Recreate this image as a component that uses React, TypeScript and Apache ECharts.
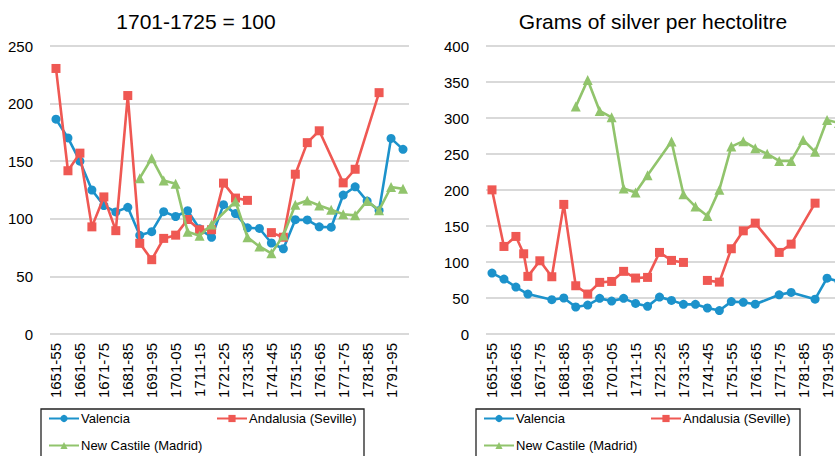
import React, { useEffect, useRef } from 'react';
import * as echarts from 'echarts';

// five-year periods
const categories = [
  '1651-55', '1656-60', '1661-65', '1666-70', '1671-75', '1676-80', '1681-85', '1686-90',
  '1691-95', '1696-00', '1701-05', '1706-10', '1711-15', '1716-20', '1721-25', '1726-30',
  '1731-35', '1736-40', '1741-45', '1746-50', '1751-55', '1756-60', '1761-65', '1766-70',
  '1771-75', '1776-80', '1781-85', '1786-90', '1791-95', '1796-00',
];

// null = empty cell (line breaks), NA = not available (line passes over it)
const NA = 'NA';

// Index, 1701-1725 = 100
const idxValencia = [
  186.5, 170.2, 150, 125, 111.5, 106, 110, 85.7, 88.8, 106.2,
  102, 107, 91.3, 84, 112.3, 104.5, 92.2, 91.6, 79, 74,
  99.2, 99, 93, 92.7, 120.6, 127.8, 115.4, 107.1, 169.8, 160.3,
];
const idxSeville = [
  230.5, 141.7, 157, 93, 119, 89.7, 207, 78.7, 64.5, 83,
  85.8, 99.4, 90.5, 90.5, 131, 118, 116, null, 88, 84,
  138.7, 166.1, 176.4, NA, 131.2, 143, NA, 209.5, null, null,
];
const idxMadrid = [
  null, null, null, null, null, null, null, 135.3, 152.6, 133.2,
  130.5, 88.8, 85.2, 95, NA, 115, 84, 76, 70, 85.5,
  112.2, 115.8, 111.5, 107.8, 104, 103, 115.5, 107.5, 127.6, 126,
];

// Grams of silver per hectolitre
const agValencia = [
  84.6, 76.3, 65.2, 55.5, NA, 47.6, 50, 37.5, 40.2, 49.5,
  45.8, 49.5, 42.5, 38.4, 51.3, 46.7, 41.2, 41.2, 36.1, 32.6,
  45, 44, 41.4, NA, 54.4, 57.8, NA, 48.4, 77.5, 73,
];
const agSeville = [
  200.2, 121.6, 135.5, 80, 101.7, 79.5, 180, 67, 55.5, 71.7,
  73, 87, 77.7, 78.6, 113.3, 102.2, 99.4, null, 74.4, 72.1,
  118.4, 143.3, 154, NA, 113.3, 124.8, NA, 181.7, null, null,
];
// an additional observation between 1661-65 and 1666-70 (position, value)
const agSevilleExtra = [[2.65, 111.4]];
const agMadrid = [
  null, null, null, null, null, null, null, 315.8, 352.8, 309.8,
  301, 202, 196.6, 220.5, NA, 267.5, 194, 177, 163.8, 200.5,
  260.3, 267.8, 258, 250.2, 240.4, 240.4, 269.4, 253, 297.3, 293,
];

const titles = ['1701-1725 = 100', 'Grams of silver per hectolitre'];
const seriesNames = ['Valencia', 'Andalusia (Seville)', 'New Castile (Madrid)'];

const BLUE = '#1c92cb';
const RED = '#ef5853';
const GREEN = '#91c46c';
const FONT = '"Liberation Sans", Arial, Helvetica, sans-serif';

function buildRuns(values: any[], extras: number[][] = []) {
  const pts: { x: number; v: any }[] = values.map((v, i) => ({ x: i, v }));
  extras.forEach(([x, v]) => pts.push({ x, v }));
  pts.sort((a, b) => a.x - b.x);
  const out: number[][][] = [];
  let cur: number[][] = [];
  for (const p of pts) {
    if (p.v === null) {
      if (cur.length) out.push(cur);
      cur = [];
    } else if (p.v !== NA) {
      cur.push([p.x, p.v]);
    }
  }
  if (cur.length) out.push(cur);
  return out;
}

export default function App() {
  const ref = useRef<HTMLDivElement>(null);

  useEffect(() => {
    if (!ref.current) return;
    const chart = echarts.init(ref.current, undefined, { renderer: 'svg' });

    const styles = [
      { color: BLUE, symbol: 'circle', size: 9 },
      { color: RED, symbol: 'rect', size: 9 },
      { color: GREEN, symbol: 'triangle', size: 10 },
    ];
    const panels = [
      { data: [idxValencia, idxSeville, idxMadrid], extras: [[], [], []], xAxisIndex: 1, yAxisIndex: 0 },
      { data: [agValencia, agSeville, agMadrid], extras: [[], agSevilleExtra, []], xAxisIndex: 3, yAxisIndex: 1 },
    ];

    const series: any[] = [];
    panels.forEach((p) => {
      p.data.forEach((vals, s) => {
        buildRuns(vals, p.extras[s] as number[][]).forEach((run) => {
          series.push({
            type: 'line',
            name: seriesNames[s],
            xAxisIndex: p.xAxisIndex,
            yAxisIndex: p.yAxisIndex,
            data: run,
            symbol: styles[s].symbol,
            symbolSize: styles[s].size,
            showAllSymbol: true,
            lineStyle: { color: styles[s].color, width: 2.6 },
            itemStyle: { color: styles[s].color },
            z: 2 + s,
          });
        });
      });
    });

    const grids = [
      { left: 50, top: 46, width: 359, height: 288 },
      { left: 486, top: 46, width: 359, height: 288 },
    ];

    const catAxis = (gridIndex: number) => ({
      type: 'category',
      gridIndex,
      data: categories,
      boundaryGap: true,
      axisLine: { show: false },
      axisTick: { show: false },
      axisLabel: {
        rotate: 90,
        interval: 1,
        margin: 9,
        fontSize: 15,
        color: '#000',
        fontFamily: FONT,
      },
    });
    const valXAxis = (gridIndex: number) => ({
      type: 'value',
      gridIndex,
      min: -0.5,
      max: categories.length - 0.5,
      show: false,
      splitLine: { show: false },
    });
    const yAxis = (gridIndex: number, max: number) => ({
      type: 'value',
      gridIndex,
      min: 0,
      max,
      interval: 50,
      axisLine: { show: false },
      axisTick: { show: false },
      axisLabel: { fontSize: 15, color: '#000', margin: 17, fontFamily: FONT },
      splitLine: { lineStyle: { color: '#cdcdcd', width: 1.5 } },
    });

    const legendPos = [
      { name: seriesNames[0], left: 48, top: 412 },
      { name: seriesNames[1], left: 216, top: 412 },
      { name: seriesNames[2], left: 48, top: 439 },
      { name: seriesNames[0], left: 483, top: 412 },
      { name: seriesNames[1], left: 650, top: 412 },
      { name: seriesNames[2], left: 483, top: 439 },
    ];

    chart.setOption({
      animation: false,
      grid: grids,
      xAxis: [catAxis(0), valXAxis(0), catAxis(1), valXAxis(1)],
      yAxis: [yAxis(0, 250), yAxis(1, 400)],
      legend: legendPos.map((l) => ({
        data: [l.name],
        left: l.left,
        top: l.top,
        padding: 0,
        itemWidth: 30,
        itemHeight: 9,
        selectedMode: false,
        textStyle: { fontSize: 13, color: '#000', fontFamily: FONT, padding: [0, 0, 0, -3] },
      })),
      graphic: [
        {
          type: 'text',
          x: 196,
          y: 21,
          style: {
            text: titles[0],
            fontSize: 21,
            fontFamily: FONT,
            fill: '#000',
            textAlign: 'center',
            textVerticalAlign: 'middle',
          },
        },
        {
          type: 'text',
          x: 653,
          y: 21,
          style: {
            text: titles[1],
            fontSize: 21,
            fontFamily: FONT,
            fill: '#000',
            textAlign: 'center',
            textVerticalAlign: 'middle',
          },
        },
        {
          type: 'rect',
          shape: { x: 41, y: 409, width: 323, height: 60 },
          style: { fill: 'none', stroke: '#222', lineWidth: 1.3 },
        },
        {
          type: 'rect',
          shape: { x: 476, y: 409, width: 324, height: 60 },
          style: { fill: 'none', stroke: '#222', lineWidth: 1.3 },
        },
      ],
      series,
    });

    return () => chart.dispose();
  }, []);

  return (
    <div
      style={{
        position: 'absolute',
        left: 0,
        top: 0,
        width: 835,
        height: 456,
        overflow: 'hidden',
        background: '#fff',
      }}
    >
      <div ref={ref} style={{ width: 850, height: 456 }} />
    </div>
  );
}
